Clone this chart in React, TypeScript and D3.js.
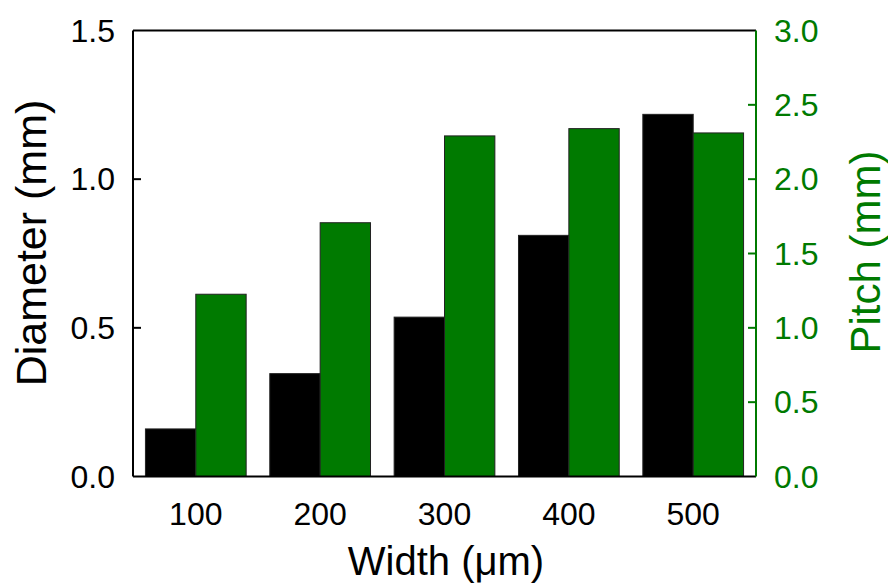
import React from 'react';
import * as d3 from 'd3';

const widths = ['100', '200', '300', '400', '500'];
const diameter = [0.16, 0.346, 0.536, 0.811, 1.218];
const pitch = [1.226, 1.707, 2.291, 2.34, 2.311];
const leftTicks = [0.0, 0.5, 1.0, 1.5];
const rightTicks = [0.0, 0.5, 1.0, 1.5, 2.0, 2.5, 3.0];

const GREEN = '#007a00';
const FONT = '"Liberation Sans", Arial, sans-serif';

const App = () => {
    const W = 888, H = 586;
    const m = { left: 133, right: 756, top: 30.5, bottom: 476.5 };

    const x = d3.scaleBand().domain(widths).range([m.left, m.right]).paddingInner(0.19).paddingOuter(0.1);
    const yL = d3.scaleLinear().domain([0, 1.5]).range([m.bottom, m.top]);
    const yR = d3.scaleLinear().domain([0, 3]).range([m.bottom, m.top]);
    const half = x.bandwidth() / 2;

    return (
        <svg width={W} height={H} style={{ position: 'absolute', left: 0, top: 0 }} fontFamily={FONT}>
            <rect width={W} height={H} fill="white" />
            {widths.map((w, i) => (
                <g key={w}>
                    <rect x={x(w)} y={yL(diameter[i])} width={half} height={m.bottom - yL(diameter[i])}
                        fill="black" stroke="#222" strokeWidth={1} />
                    <rect x={x(w) + half} y={yR(pitch[i])} width={half} height={m.bottom - yR(pitch[i])}
                        fill={GREEN} stroke="#222" strokeWidth={1} />
                    <text x={x(w) + half} y={525} fontSize={32} textAnchor="middle" fill="black">{w}</text>
                </g>
            ))}
            {/* frame */}
            <line x1={m.left} x2={m.right} y1={m.top} y2={m.top} stroke="black" strokeWidth={2} />
            <line x1={m.left} x2={m.right} y1={m.bottom} y2={m.bottom} stroke="black" strokeWidth={2} />
            <line x1={m.left} x2={m.left} y1={m.top} y2={m.bottom} stroke="black" strokeWidth={2} />
            <line x1={m.right} x2={m.right} y1={m.top} y2={m.bottom} stroke={GREEN} strokeWidth={2} />
            {/* left axis */}
            {leftTicks.map(t => (
                <g key={'l' + t}>
                    {t > 0 && t < 1.5 && <line x1={m.left} x2={m.left + 8} y1={yL(t)} y2={yL(t)} stroke="black" strokeWidth={2} />}
                    <text x={115} y={yL(t) + 11} fontSize={32} textAnchor="end" fill="black">{t.toFixed(1)}</text>
                </g>
            ))}
            {/* right axis */}
            {rightTicks.map(t => (
                <g key={'r' + t}>
                    {t > 0 && t < 3 && <line x1={m.right} x2={m.right - 8} y1={yR(t)} y2={yR(t)} stroke={GREEN} strokeWidth={2} />}
                    <text x={774} y={yR(t) + 11} fontSize={32} textAnchor="start" fill={GREEN}>{t.toFixed(1)}</text>
                </g>
            ))}
            <text x={446} y={575} fontSize={40} textAnchor="middle" fill="black">Width (μm)</text>
            <text transform={`translate(46,243) rotate(-90)`} fontSize={43} textAnchor="middle" fill="black">Diameter (mm)</text>
            <text transform={`translate(880,252) rotate(-90)`} fontSize={42} textAnchor="middle" fill={GREEN}>Pitch (mm)</text>
        </svg>
    );
};

export default App;
